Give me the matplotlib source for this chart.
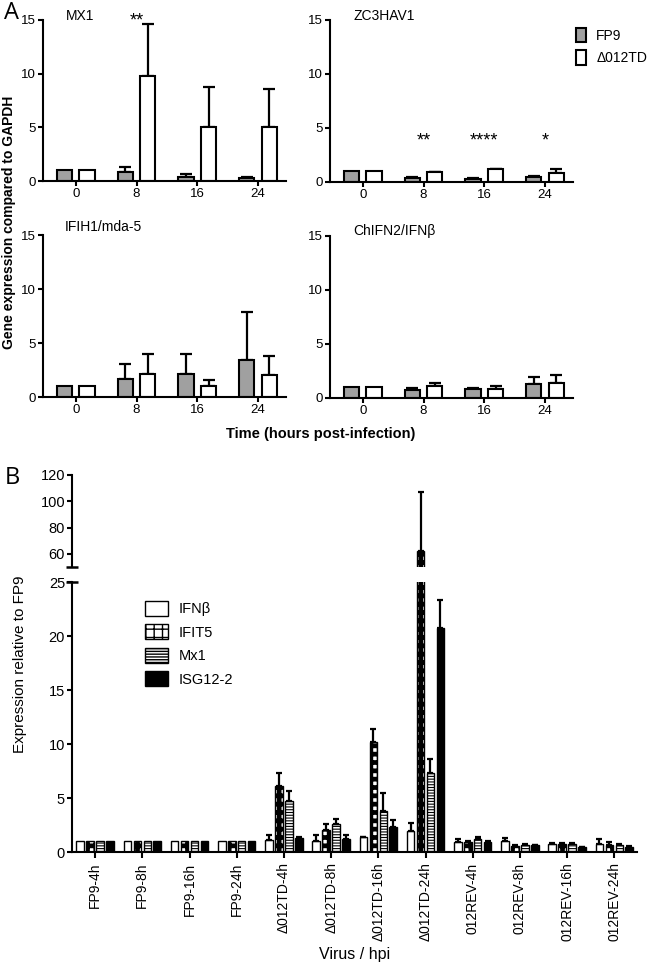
import matplotlib
matplotlib.use('Agg')
import matplotlib.pyplot as plt
import numpy as np

plt.rcParams['font.family'] = ['Liberation Sans', 'DejaVu Sans']

# ---------------- Panel A data ----------------
time_labels = ['0', '8', '16', '24']
series_A = ['FP9', 'Δ012TD']

mx1_fp9 = [1.0, 0.8, 0.4, 0.25]
mx1_fp9_err = [0.0, 0.53, 0.25, 0.15]
mx1_del = [1.0, 9.78, 5.03, 5.0]
mx1_del_err = [0.0, 4.82, 3.7, 3.57]

zc_fp9 = [1.0, 0.4, 0.3, 0.5]
zc_fp9_err = [0.0, 0.05, 0.07, 0.05]
zc_del = [1.0, 0.9, 1.2, 0.83]
zc_del_err = [0.0, 0.05, 0.03, 0.34]

ifih_fp9 = [1.0, 1.65, 2.15, 3.47]
ifih_fp9_err = [0.0, 1.45, 1.85, 4.36]
ifih_del = [1.0, 2.15, 1.05, 2.0]
ifih_del_err = [0.0, 1.85, 0.55, 1.8]

chifn_fp9 = [1.0, 0.75, 0.85, 1.28]
chifn_fp9_err = [0.0, 0.15, 0.1, 0.62]
chifn_del = [1.0, 1.13, 0.8, 1.43]
chifn_del_err = [0.0, 0.25, 0.3, 0.71]

titles_A = ['MX1', 'ZC3HAV1', 'IFIH1/mda-5', 'ChIFN2/IFNβ']
stars_mx1 = ['', '**', '', '']
stars_zc = ['', '**', '****', '*']

# ---------------- Panel B data ----------------
virus_labels = ['FP9-4h', 'FP9-8h', 'FP9-16h', 'FP9-24h',
                'Δ012TD-4h', 'Δ012TD-8h', 'Δ012TD-16h', 'Δ012TD-24h',
                '012REV-4h', '012REV-8h', '012REV-16h', '012REV-24h']
genes_B = ['IFNβ', 'IFIT5', 'Mx1', 'ISG12-2']
ifnb = [1, 1, 1, 1, 1.15, 1.05, 1.36, 1.9, 0.95, 1.0, 0.75, 0.78]
ifnb_err = [0, 0, 0, 0, 0.45, 0.5, 0.05, 0.75, 0.28, 0.3, 0.08, 0.42]
ifit5 = [1, 1, 1, 1, 6.1, 2.0, 10.2, 62, 0.93, 0.6, 0.72, 0.62]
ifit5_err = [0, 0, 0, 0, 1.25, 0.56, 1.16, 45, 0.12, 0.05, 0.1, 0.3]
mx1b = [1, 1, 1, 1, 4.72, 2.62, 3.77, 7.3, 1.22, 0.65, 0.72, 0.66]
mx1b_err = [0, 0, 0, 0, 0.9, 0.43, 1.73, 1.3, 0.15, 0.05, 0.15, 0.05]
isg = [1, 1, 1, 1, 1.3, 1.17, 2.3, 20.7, 0.95, 0.65, 0.42, 0.5]
isg_err = [0, 0, 0, 0, 0.06, 0.43, 0.7, 2.6, 0.05, 0.03, 0.03, 0.05]

W, H = 650, 968
fig = plt.figure(figsize=(W / 100, H / 100), dpi=100)


def fx(x):
    return x / W


def fy(y):
    return 1 - y / H


def ax_rect(x0, y0, x1, y1):
    return [fx(x0), fy(y1), (x1 - x0) / W, (y1 - y0) / H]


def style_axes(ax, lw=1.5):
    for s in ['top', 'right']:
        ax.spines[s].set_visible(False)
    for s in ['left', 'bottom']:
        ax.spines[s].set_linewidth(lw)
    ax.tick_params(direction='out', width=lw, length=3.5, labelsize=9.5, pad=1.5)


# ---------------- Panel A ----------------
rects_A = [(43, 20, 286, 181), (330, 20, 573, 182),
           (43, 235, 286, 397), (330, 236, 573, 398)]
data_A = [(mx1_fp9, mx1_fp9_err, mx1_del, mx1_del_err),
          (zc_fp9, zc_fp9_err, zc_del, zc_del_err),
          (ifih_fp9, ifih_fp9_err, ifih_del, ifih_del_err),
          (chifn_fp9, chifn_fp9_err, chifn_del, chifn_del_err)]
title_pos = [(66, 16), (353, 16), (65, 227), (353, 231)]

xA = np.arange(len(time_labels))
bwA = 0.25
offA = 0.185
axes_A = []
for i, (r, d) in enumerate(zip(rects_A, data_A)):
    ax = fig.add_axes(ax_rect(*r))
    axes_A.append(ax)
    style_axes(ax)
    fp, fpe, de, dee = d
    ax.bar(xA - offA, fp, bwA, color='#a0a0a0', edgecolor='black', linewidth=1.5,
           label=series_A[0], zorder=2)
    ax.bar(xA + offA, de, bwA, color='white', edgecolor='black', linewidth=1.5,
           label=series_A[1], zorder=2)
    for xs, m, e in [(xA - offA, fp, fpe), (xA + offA, de, dee)]:
        for xx, mm, ee in zip(xs, m, e):
            if ee > 0:
                ax.errorbar(xx, mm, yerr=[[0], [ee]], fmt='none', ecolor='black',
                            elinewidth=1.6, capsize=4, capthick=1.6, zorder=1)
    ax.set_ylim(0, 15)
    ax.set_yticks([0, 5, 10, 15])
    ax.set_xlim(-0.54, 3.46)
    ax.set_xticks(xA)
    ax.set_xticklabels(time_labels)
    fig.text(fx(title_pos[i][0]), fy(title_pos[i][1]), titles_A[i], fontsize=10,
             ha='left', va='center')

for xx, s in zip(xA, stars_mx1):
    if s:
        axes_A[0].text(xx, 14.1, s, ha='center', va='bottom', fontsize=13, clip_on=False)
for xx, s in zip(xA, stars_zc):
    if s:
        axes_A[1].text(xx, 3.0, s, ha='center', va='bottom', fontsize=13)

h, l = axes_A[0].get_legend_handles_labels()
fig.legend(h, l, loc='upper left', bbox_to_anchor=(fx(576), fy(28)), frameon=False,
           fontsize=10, handlelength=0.75, handleheight=1.2, handletextpad=0.7,
           labelspacing=0.55, borderpad=0, borderaxespad=0)

fig.text(fx(4), fy(13), 'A', fontsize=17, ha='left', va='center',
         family=['Open Sans', 'DejaVu Sans'])
fig.text(fx(9), fy(222), 'Gene expression compared to GAPDH', rotation=90,
         fontsize=10, fontweight='bold', ha='center', va='center')
fig.text(fx(321), fy(434), 'Time (hours post-infection)', fontsize=10.5,
         fontweight='bold', ha='center', va='center')

# ---------------- Panel B ----------------
ax_up = fig.add_axes(ax_rect(72, 475, 637, 567))
ax_lo = fig.add_axes(ax_rect(72, 582, 637, 852))
xB = np.arange(len(virus_labels))
bwB = 0.16
spB = 0.21
vals_B = [ifnb, ifit5, mx1b, isg]
errs_B = [ifnb_err, ifit5_err, mx1b_err, isg_err]
styles_B = [dict(color='white', hatch=None, hlw=1.0),
            dict(color='white', hatch='++', hlw=3.4),
            dict(color='white', hatch='------', hlw=0.8),
            dict(color='black', hatch=None, hlw=1.0)]

handles_B = []
for ax in (ax_up, ax_lo):
    for k in range(4):
        st = styles_B[k]
        xs = xB + (k - 1.5) * spB
        with plt.rc_context({'hatch.linewidth': st['hlw'], 'hatch.color': 'black'}):
            bars = ax.bar(xs, vals_B[k], bwB, color=st['color'], edgecolor='black',
                          linewidth=1.0, hatch=st['hatch'], label=genes_B[k], zorder=2)
        for p in bars:
            if hasattr(p, 'set_hatch_linewidth'):
                p.set_hatch_linewidth(st['hlw'])
        if ax is ax_lo:
            handles_B.append(bars)
        for xx, mm, ee in zip(xs, vals_B[k], errs_B[k]):
            if ee > 0:
                ax.errorbar(xx, mm, yerr=[[0], [ee]], fmt='none', ecolor='black',
                            elinewidth=1.6, capsize=2.5, capthick=1.6, zorder=3)
    ax.set_xlim(-0.49, 11.48)

style_axes(ax_lo)
style_axes(ax_up)
ax_lo.set_ylim(0, 25)
ax_lo.set_yticks([0, 5, 10, 15, 20, 25])
ax_lo.set_xticks(xB)
ax_lo.set_xticklabels(virus_labels, rotation=90, fontsize=10)
ax_lo.tick_params(axis='x', length=4.5, pad=3)
ax_up.set_ylim(50, 120)
ax_up.set_yticks([60, 80, 100, 120])
for a in (ax_lo, ax_up):
    a.tick_params(axis='y', labelsize=10.5)
ax_up.spines['bottom'].set_visible(False)
ax_up.set_xticks([])
# axis-break caps
ax_up.plot([0], [0], transform=ax_up.transAxes, marker='_', markersize=8, mew=1.8,
           color='black', clip_on=False)
ax_lo.plot([0], [1], transform=ax_lo.transAxes, marker='_', markersize=8, mew=1.8,
           color='black', clip_on=False)

fig.legend(handles_B, genes_B, loc='upper left', bbox_to_anchor=(fx(145), fy(601)),
           frameon=False, fontsize=10.5, handlelength=1.6, handleheight=1.2,
           handletextpad=0.7, labelspacing=0.55, borderpad=0, borderaxespad=0)

fig.text(fx(5), fy(478), 'B', fontsize=17, ha='left', va='center',
         family=['Open Sans', 'DejaVu Sans'])
fig.text(fx(20), fy(664), 'Expression relative to FP9', rotation=90, fontsize=11,
         ha='center', va='center')
fig.text(fx(355), fy(955), 'Virus / hpi', fontsize=11.5, ha='center', va='center')

fig.savefig('out.png', dpi=100)
